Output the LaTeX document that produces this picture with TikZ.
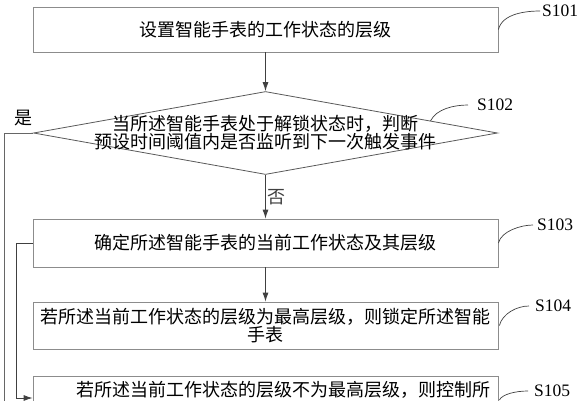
\documentclass[tikz,border=0pt]{standalone}
\usepackage{fontspec}
\setmainfont{Liberation Serif}
\newfontfamily\cjk{Noto Sans CJK SC}
\usetikzlibrary{shapes.geometric,arrows.meta,calc}

\begin{document}
\begin{tikzpicture}[x=1pt,y=-1pt,
   stepbox/.style={draw=black!45,line width=0.8pt,minimum width=465pt,inner sep=0pt,align=center,font=\cjk\fontsize{18}{18}\selectfont},
   decision/.style={diamond,draw=black!65,line width=0.8pt,minimum width=464pt,minimum height=83pt,inner sep=0pt},
   steptext/.style={inner sep=0pt,align=center,font=\cjk\fontsize{18}{18}\selectfont},
   tag/.style={anchor=west,inner sep=0pt,font=\fontsize{17.5}{18}\selectfont},
   flow/.style={black!75,line width=0.8pt,-{Latex[length=9pt,width=6pt]}},
   wire/.style={black!60,line width=0.8pt},
   lead/.style={black!75,line width=0.7pt}]
   \useasboundingbox (0,0) rectangle (580,400);
   \clip (0,0) rectangle (580,400);
   % steps
   \node[stepbox,minimum height=45pt] (s101) at (265.5,29.5) {设置智能手表的工作状态的层级};
   \node[decision] (dia) at (265.5,133) {};
   \node[steptext] (q102) at (dia.center) {当所述智能手表处于解锁状态时，判断\\预设时间阈值内是否监听到下一次触发事件};
   \node[stepbox,minimum height=48pt] (s103) at (265.5,243) {确定所述智能手表的当前工作状态及其层级};
   \node[stepbox,minimum height=47pt] (s104) at (265.5,325.5) {若所述当前工作状态的层级为最高层级，则锁定所述智能\\手表};
   \node[stepbox,anchor=north,text width=449pt,align=right,text height=15pt,text depth=30pt,inner ysep=5pt] (s105) at (265.5,376) {若所述当前工作状态的层级不为最高层级，则控制所};
   % tags
   \node[tag] (lab101) at (542,11) {S101};
   \node[tag] (lab102) at (477,105) {S102};
   \node[tag] (lab103) at (537,225) {S103};
   \node[tag] (lab104) at (535,306) {S104};
   \node[tag] (lab105) at (534,391) {S105};
   \draw[lead] (s101.east) .. controls +(4,-16) and +(-14,0) .. ($(lab101.west)+(-2,0)$);
   \draw[lead] ($(dia.north)!0.71!(dia.east)$) .. controls +(6,-12) and +(-14,0) .. ($(lab102.west)+(-9,0)$);
   \draw[lead] (s103.east) .. controls +(3,-12) and +(-12,0) .. ($(lab103.west)+(-4,0)$);
   \draw[lead] ($(s104.east)+(1,0)$) .. controls +(3,-12) and +(-12,0) .. ($(lab104.west)+(-6,0)$);
   \draw[lead] ($(s105.north east)+(1,24)$) .. controls +(3,-6) and +(-12,0) .. ($(lab105.west)+(-6,0)$);
   % flow
   \coordinate (yesend) at (4,420);
   \draw[flow] (s101) -- (dia);
   \draw[flow] (dia.south) -- (s103.north) node[midway,right=2pt,steptext] (no) {否};
   \draw[flow] (s103) -- (s104);
   \draw[wire] (dia.west) -| (yesend);
   \node[steptext] (yes) at (23,118) {是};
   \draw[flow] (s103.west) -- ++(-16,0) |- ($(s105.north west)+(0,22)$);
\end{tikzpicture}
\end{document}
